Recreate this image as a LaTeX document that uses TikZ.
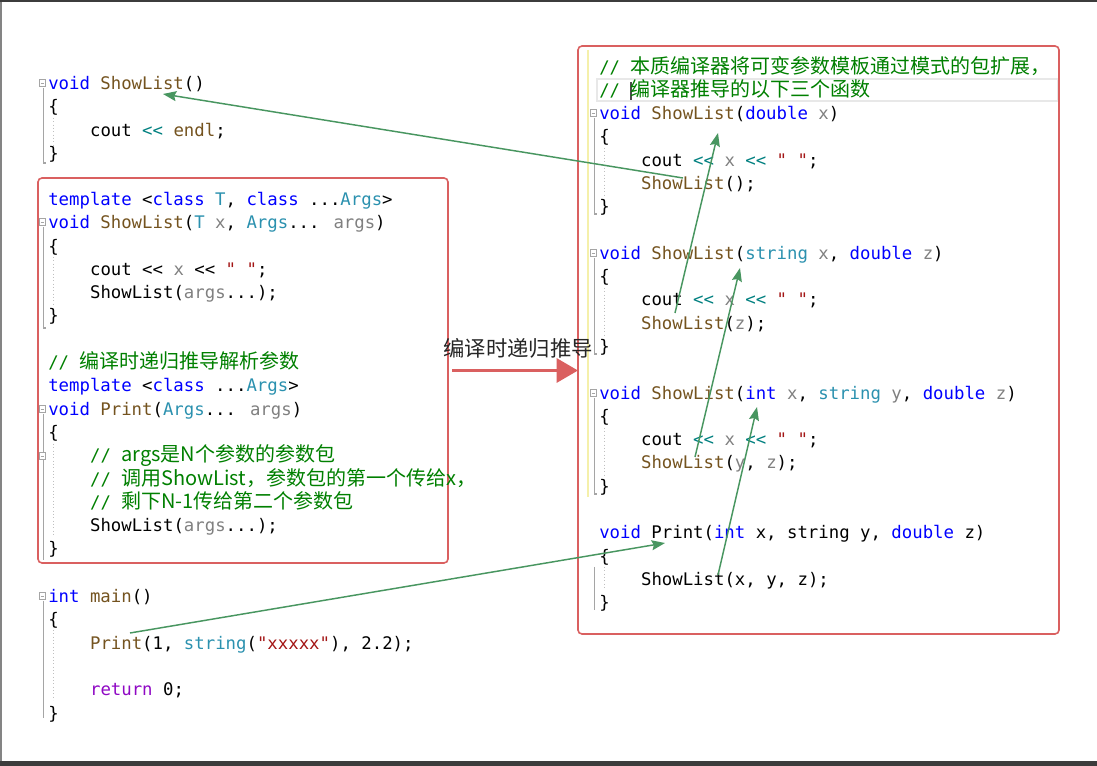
\documentclass[tikz,border=0pt]{standalone}
\usepackage{fontspec}
\newfontfamily\codef{DejaVu Sans Mono}
\newfontfamily\cjk{Noto Sans CJK SC}
\usetikzlibrary{arrows.meta}
\definecolor{kwblue}{RGB}{0,0,255}
\definecolor{fnbrown}{RGB}{116,83,31}
\definecolor{tyteal}{RGB}{43,145,175}
\definecolor{pagray}{RGB}{128,128,128}
\definecolor{strred}{RGB}{163,21,21}
\definecolor{opteal}{RGB}{0,128,128}
\definecolor{cmgreen}{RGB}{0,128,0}
\definecolor{retpurple}{RGB}{143,8,196}
\definecolor{boxred}{RGB}{218,96,96}
\definecolor{arrgreen}{RGB}{72,150,96}
\definecolor{guidegray}{RGB}{165,165,165}
\definecolor{hiyellow}{RGB}{245,240,170}
\definecolor{barcol}{RGB}{60,60,60}
\newcommand\ckw[1]{\textcolor{kwblue}{#1}}
\newcommand\cfn[1]{\textcolor{fnbrown}{#1}}
\newcommand\cty[1]{\textcolor{tyteal}{#1}}
\newcommand\cpa[1]{\textcolor{pagray}{#1}}
\newcommand\cstr[1]{\textcolor{strred}{#1}}
\newcommand\cop[1]{\textcolor{opteal}{#1}}
\newcommand\ccm[1]{\textcolor{cmgreen}{#1}}
\newcommand\cret[1]{\textcolor{retpurple}{#1}}
\newcommand\cjkc[1]{{\cjk\fontsize{15}{15}\selectfont #1}}
\tikzset{
  code/.style={anchor=base west, inner sep=0pt, font=\codef\fontsize{13}{15}\selectfont},
  redbox/.style={draw=boxred, line width=1.2pt, rounded corners=3pt},
  garrow/.style={draw=arrgreen, line width=1.1pt, -{Stealth[length=10pt,width=7.5pt,inset=1.5pt]}},
  rarrow/.style={draw=boxred, line width=2.2pt, -{Triangle[length=16pt,width=18pt]}},
  guide/.style={draw=guidegray, line width=0.8pt},
  dguide/.style={draw=black!25, line width=0.5pt, dotted},
  midlabel/.style={font=\cjk\fontsize{16}{16}\selectfont, text=black!85, inner sep=0pt}
}
\newcommand\codeln[4]{\node[code] (#1) at (#2,{#3+6.5}) {#4};}
\newcommand\foldmark[2]{\draw[guide, line width=0.6pt, fill=white] ({#1-3},{#2-3.5}) rectangle ({#1+3},{#2+3.5}); \draw[guide, line width=0.6pt] ({#1-1.5},#2) -- ({#1+1.5},#2);}
\begin{document}
\begin{tikzpicture}[x=0.75pt,y=-0.75pt]
\useasboundingbox (0,0) rectangle (1097,766);
\fill[white] (0,0) rectangle (1097,766);
\fill[barcol] (0,0) rectangle (1097,2.5);
\fill[barcol] (0,761) rectangle (1097,766);
\draw[guidegray!80!black, line width=1.2pt] (0.8,2.5) -- (0.8,761);

% editor guides, top-left block
\foldmark{42}{83}
\draw[guide] (43.5,88) -- (43.5,163) -- (46,163);
\draw[dguide] (53,118) -- (53,145);
% left box guides
\foldmark{42}{222}
\draw[guide] (43.5,227) -- (43.5,328) -- (46,328);
\draw[dguide] (53,257) -- (53,306);
\foldmark{42}{409}
\draw[guide] (43.5,414) -- (43.5,560);
\foldmark{42}{456}
\draw[dguide] (53,444) -- (53,537);
% main guides
\foldmark{42}{596}
\draw[guide] (43.5,601) -- (43.5,718);
\draw[dguide] (53,630) -- (53,700);
% right box guides
\draw[hiyellow, line width=1.2pt] (588,50) -- (588,497);
\draw[black!9, line width=0.8pt] (597,79) rectangle (1058,101);
\draw[black!70, line width=0.8pt] (631,82) -- (631,100);
\foldmark{593}{113}
\draw[guide] (594.5,118) -- (594.5,214) -- (597,214);
\draw[dguide] (604,148) -- (604,195);
\foldmark{593}{253}
\draw[guide] (594.5,258) -- (594.5,354) -- (597,354);
\draw[dguide] (604,288) -- (604,335);
\foldmark{593}{393}
\draw[guide] (594.5,398) -- (594.5,494) -- (597,494);
\draw[dguide] (604,428) -- (604,475);
\draw[guide] (594.5,567) -- (594.5,610);
\draw[dguide] (604,567) -- (604,590);

% red boxes
\draw[redbox] (38,178) rectangle (448,563);
\draw[redbox] (578,46) rectangle (1059,634);

% top-left code
\codeln{t0}{48}{83}{\ckw{void} \cfn{ShowList}()}
\codeln{t1}{48}{106.3}{\{}
\codeln{t2}{89.8}{129.6}{cout \cop{<<} \cfn{endl};}
\codeln{t3}{48}{152.9}{\}}

% left box code
\codeln{l0}{48}{199}{\ckw{template} <\ckw{class} \cty{T}, \ckw{class} ...\cty{Args}>}
\codeln{l1}{48}{222.3}{\ckw{void} \cfn{ShowList}(\cty{T} \cpa{x}, \cty{Args}... \cpa{args})}
\codeln{l2}{48}{245.6}{\{}
\codeln{l3}{89.8}{268.9}{cout << \cpa{x} << \cstr{" "};}
\codeln{l4}{89.8}{292.2}{ShowList(\cpa{args}...);}
\codeln{l5}{48}{315.5}{\}}
\codeln{l7}{48}{362.1}{\ccm{// \cjkc{编译时递归推导解析参数}}}
\codeln{l8}{48}{385.4}{\ckw{template} <\ckw{class} ...\cty{Args}>}
\codeln{l9}{48}{408.7}{\ckw{void} \cfn{Print}(\cty{Args}... \cpa{args})}
\codeln{l10}{48}{432}{\{}
\codeln{l11}{89.8}{455.3}{\ccm{// \cjkc{args是N个参数的参数包}}}
\codeln{l12}{89.8}{478.6}{\ccm{// \cjkc{调用ShowList，参数包的第一个传给x，}}}
\codeln{l13}{89.8}{501.9}{\ccm{// \cjkc{剩下N-1传给第二个参数包}}}
\codeln{l14}{89.8}{525.2}{ShowList(\cpa{args}...);}
\codeln{l15}{48}{548.5}{\}}

% main
\codeln{m0}{48}{596}{\ckw{int} \cfn{main}()}
\codeln{m1}{48}{619.3}{\{}
\codeln{m2}{89.8}{642.6}{\cfn{Print}(1, \cty{string}(\cstr{"xxxxx"}), 2.2);}
\codeln{m4}{89.8}{689.2}{\cret{return} 0;}
\codeln{m5}{48}{712.5}{\}}

% right box code
\codeln{rc1}{599}{67.5}{\ccm{// \cjkc{本质编译器将可变参数模板通过模式的包扩展，}}}
\codeln{rc2}{599}{90}{\ccm{// \cjkc{编译器推导的以下三个函数}}}
\codeln{r0}{599}{113}{\ckw{void} \cfn{ShowList}(\ckw{double} \cpa{x})}
\codeln{r1}{599}{136.3}{\{}
\codeln{r2}{640.8}{159.6}{cout \cop{<<} \cpa{x} \cop{<<} \cstr{" "};}
\codeln{r3}{640.8}{182.9}{\cfn{ShowList}();}
\codeln{r4}{599}{206.2}{\}}
\codeln{r6}{599}{252.8}{\ckw{void} \cfn{ShowList}(\cty{string} \cpa{x}, \ckw{double} \cpa{z})}
\codeln{r7}{599}{276.1}{\{}
\codeln{r8}{640.8}{299.4}{cout \cop{<<} \cpa{x} \cop{<<} \cstr{" "};}
\codeln{r9}{640.8}{322.7}{\cfn{ShowList}(\cpa{z});}
\codeln{r10}{599}{346}{\}}
\codeln{r12}{599}{392.6}{\ckw{void} \cfn{ShowList}(\ckw{int} \cpa{x}, \cty{string} \cpa{y}, \ckw{double} \cpa{z})}
\codeln{r13}{599}{415.9}{\{}
\codeln{r14}{640.8}{439.2}{cout \cop{<<} \cpa{x} \cop{<<} \cstr{" "};}
\codeln{r15}{640.8}{462.5}{\cfn{ShowList}(\cpa{y}, \cpa{z});}
\codeln{r16}{599}{485.8}{\}}
\codeln{r18}{599}{532.4}{\ckw{void} Print(\ckw{int} x, string y, \ckw{double} z)}
\codeln{r19}{599}{555.7}{\{}
\codeln{r20}{640.8}{579}{ShowList(x, y, z);}
\codeln{r21}{599}{602.3}{\}}

% middle label and arrow
\node[midlabel] (lab) at (518,348.5) {编译时递归推导};
\coordinate (ra) at (452,370.5);
\coordinate (rb) at (578,370.5);
\draw[rarrow] (ra) -- (rb);

% green arrows
\coordinate (s1) at (683,178); \coordinate (e1) at (163,94);
\coordinate (s2) at (675,313); \coordinate (e2) at (718,133);
\coordinate (s3) at (695,457); \coordinate (e3) at (740,268);
\coordinate (s4) at (718,575); \coordinate (e4) at (757,407);
\coordinate (s5) at (130,633); \coordinate (e5) at (665,543);
\draw[garrow] (s1) -- (e1);
\draw[garrow] (s2) -- (e2);
\draw[garrow] (s3) -- (e3);
\draw[garrow] (s4) -- (e4);
\draw[garrow] (s5) -- (e5);
\end{tikzpicture}
\end{document}
